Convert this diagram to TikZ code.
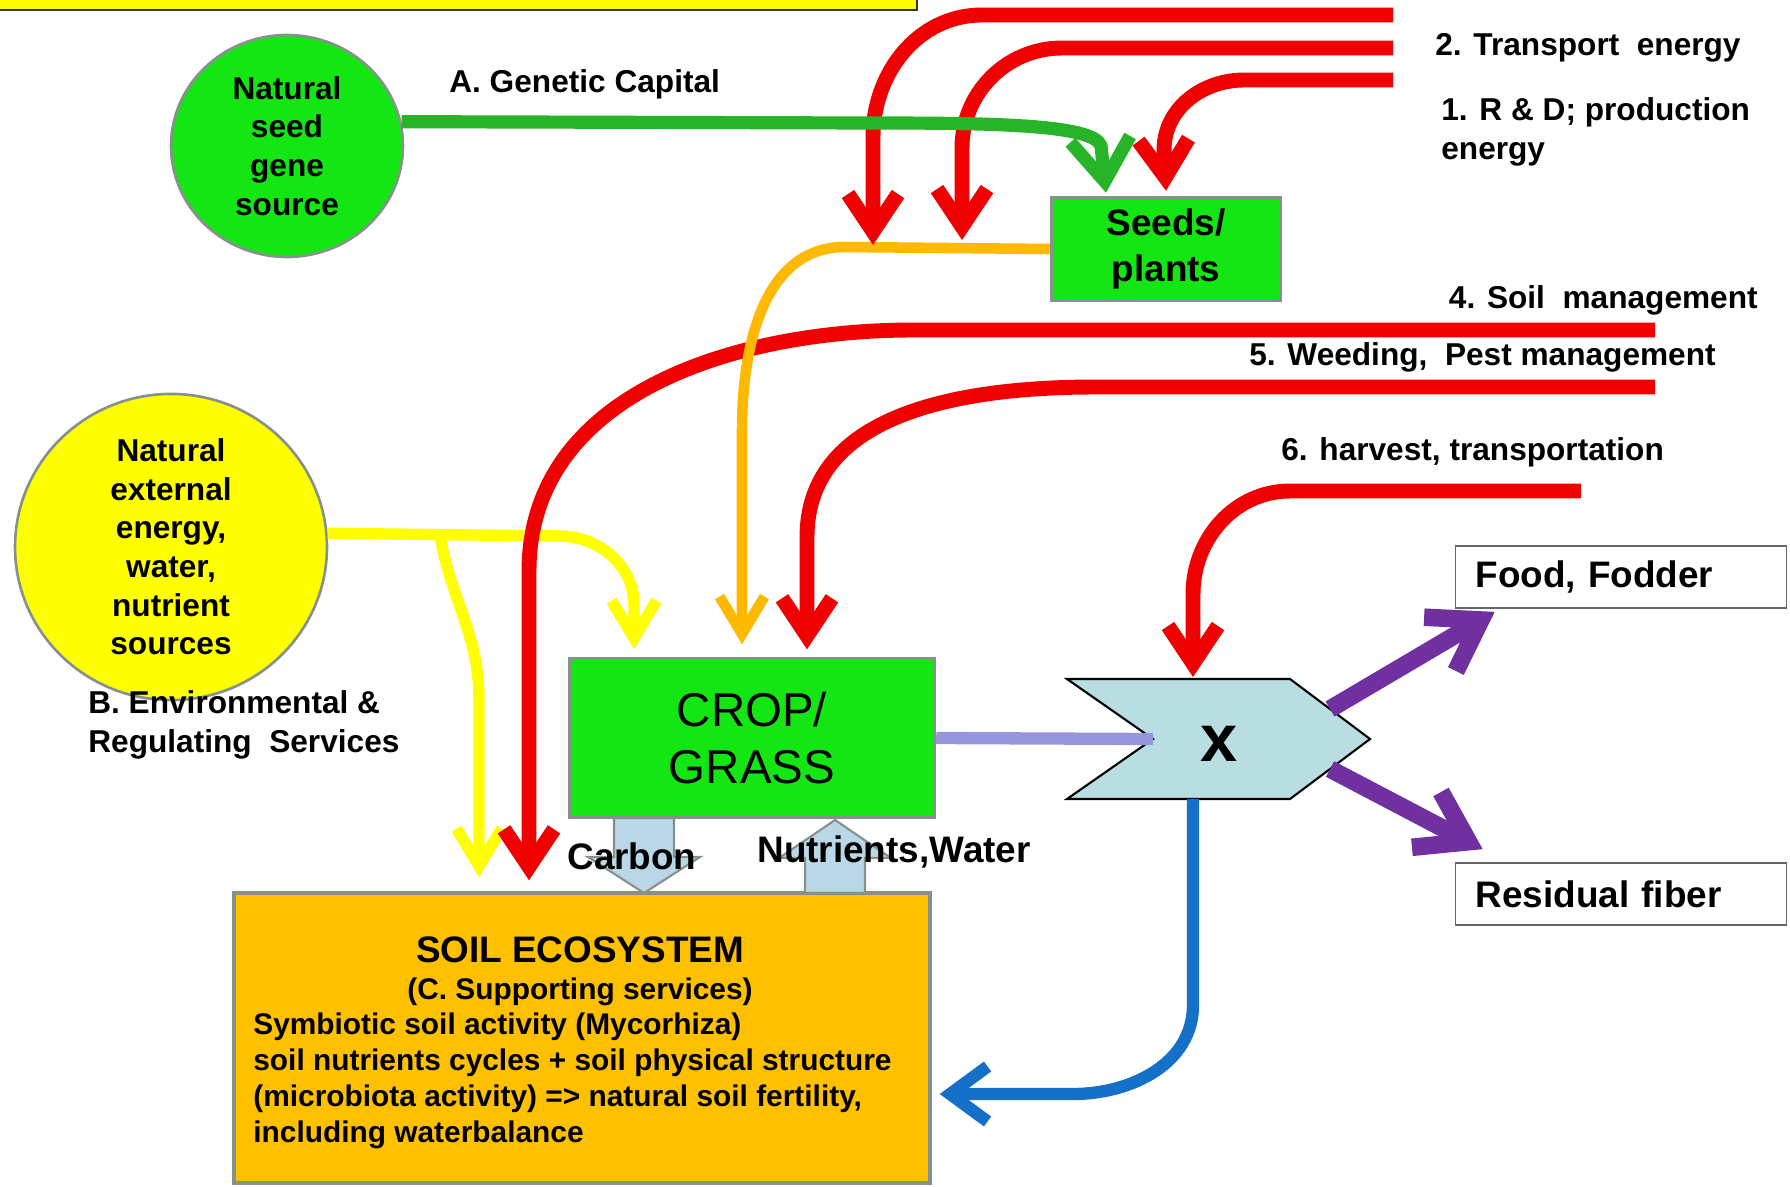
\documentclass[tikz,border=0pt]{standalone}
\usepackage{fontspec}
\setmainfont{Liberation Sans}
\usetikzlibrary{arrows.meta,shapes.geometric}

\definecolor{leafgreen}{RGB}{20,230,20}
\definecolor{stemgreen}{RGB}{40,180,40}
\definecolor{flowred}{RGB}{240,0,0}
\definecolor{seedorange}{RGB}{255,185,0}
\definecolor{soilorange}{RGB}{255,192,0}
\definecolor{sunyellow}{RGB}{255,255,0}
\definecolor{lavender}{RGB}{150,150,220}
\definecolor{harvestblue}{RGB}{185,222,226}
\definecolor{blockblue}{RGB}{185,215,230}
\definecolor{outpurple}{RGB}{112,48,160}
\definecolor{returnblue}{RGB}{20,112,200}
\definecolor{edgegray}{RGB}{135,145,140}

\begin{document}
\begin{tikzpicture}[x=0.02cm, y=-0.02cm,
    every node/.style={font=\fontsize{18}{22}\selectfont\bfseries, inner sep=0pt},
    source/.style={ellipse, draw=edgegray, line width=1.5pt, align=center},
    box/.style={rectangle, draw=edgegray, line width=2pt, align=center},
    outbox/.style={rectangle, draw=black!60, fill=white, line width=1pt,
      minimum height=1.24cm, text width=5.82cm, inner xsep=0.4cm, align=left,
      font=\fontsize{21}{25}\selectfont\bfseries},
    redflow/.style={draw=flowred, line width=8.5pt,
      -{Straight Barb[length=0.75cm,width=1.0cm]}},
    greenflow/.style={draw=stemgreen, line width=7.5pt,
      -{Straight Barb[length=0.85cm,width=1.2cm]}},
    orangeflow/.style={draw=seedorange, line width=6pt,
      -{Straight Barb[length=0.75cm,width=0.9cm]}},
    yellowflow/.style={draw=sunyellow, line width=6.5pt,
      -{Straight Barb[length=0.75cm,width=0.9cm]}},
    purpleflow/.style={draw=outpurple, line width=10pt,
      -{Straight Barb[length=0.95cm,width=1.25cm]}},
    blueflow/.style={draw=returnblue, line width=7pt,
      -{Straight Barb[length=0.75cm,width=1.1cm]}},
    blockarrow/.style={fill=blockblue, draw=edgegray, line width=1.2pt}
  ]
  \useasboundingbox (0,0) rectangle (1790,1186);

  % title box, cut off at the top
  \draw[fill=sunyellow, draw=black!80, line width=1.2pt] (-10,-40) rectangle (917,10);

  % sources and boxes
  \node[source, fill=leafgreen, minimum width=4.64cm, minimum height=4.44cm]
    (seedsrc) at (287,146) {Natural\\seed\\gene\\source};
  \node[source, fill=sunyellow, minimum width=6.24cm, minimum height=5.68cm]
    (envsrc) at (171,547) {Natural\\external\\energy,\\water,\\nutrient\\sources};
  \node[box, fill=leafgreen, minimum width=4.58cm, minimum height=2.06cm,
    font=\fontsize{21}{26}\selectfont\bfseries] (seeds) at (1166,249) {Seeds/\\plants};
  \node[box, fill=leafgreen, minimum width=7.3cm, minimum height=3.18cm,
    font=\fontsize{27}{32}\selectfont] (crop) at (752,738) {CROP/\\GRASS};
  \node[box, fill=soilorange, minimum width=13.92cm, minimum height=5.8cm]
    (soil) at (582,1038) {};
  \node[font=\fontsize{21}{25}\selectfont\bfseries] (soiltitle) at (580,950) {SOIL ECOSYSTEM};
  \node[font=\fontsize{17}{20}\selectfont\bfseries] (soilsub) at (580,992) {(C. Supporting services)};
  \node[anchor=north west, align=left, font=\fontsize{17}{20.5}\selectfont\bfseries]
    (soiltext) at (253,1012) {Symbiotic soil activity (Mycorhiza)\\
    soil nutrients cycles + soil physical structure\\
    (microbiota activity) => natural soil fertility,\\
    including waterbalance};

  % harvest step
  \draw[fill=harvestblue, draw=black, line width=1.2pt]
    (1067,679) -- (1290,679) -- (1370,739) -- (1290,799) -- (1067,799) -- (1153,739) -- cycle;
  \node[font=\fontsize{38}{40}\selectfont\bfseries] (harvest) at (1219,744) {x};
  \coordinate (notch) at (1153,739);
  \coordinate (harvtop) at (1193,677);
  \coordinate (harvbot) at (1193,799);
  \coordinate (harvup) at (1330,709);
  \coordinate (harvdown) at (1330,769);

  \node[outbox] (food) at (1621,577) {Food, Fodder};
  \node[outbox] (fiber) at (1621,894) {Residual fiber};

  % labels
  \node[anchor=west] (genlbl) at (449,84) {A. Genetic Capital};
  \node[anchor=west] (trlbl) at (1435,48) {2. Transport\ \ energy};
  \node[anchor=west, align=left] (rdlbl) at (1441,132) {1. R \& D; production\\energy};
  \node[anchor=east] (soillbl) at (1758,300) {4. Soil\ \ management};
  \node[anchor=east] (weedlbl) at (1716,357) {5. Weeding,\ \ Pest management};
  \node[anchor=west] (harvlbl) at (1281,452) {6. harvest, transportation};
  \node[anchor=west, align=left] (envlbl) at (88,725) {B. Environmental \&\\Regulating\ \ Services};

  % free ends of the energy inputs
  \coordinate (r1in) at (1393,15);
  \coordinate (r2in) at (1393,48);
  \coordinate (r3in) at (1393,80);
  \coordinate (r4in) at (1655,330);
  \coordinate (r5in) at (1655,387);
  \coordinate (r6in) at (1581,491);
  \coordinate (ybranch) at (440,536);

  % flows
  \draw[yellowflow] (envsrc.5) -- (559,536) to[out=0,in=90] (634,605)
    -- ([xshift=-2.36cm,yshift=0.15cm]crop.north);
  \draw[yellowflow] (ybranch) to[out=-80,in=90] (479,700)
    -- ([xshift=-2.06cm,yshift=0.28cm]soil.north);
  \draw[redflow] (r4in) -- (913,330) to[out=180,in=90] (529,571)
    -- ([xshift=-1.06cm,yshift=0.22cm]soil.north);
  \draw[orangeflow] (seeds.west) -- (845,247) to[out=180,in=90] (742,430)
    -- ([xshift=-0.2cm,yshift=0.25cm]crop.north);
  \draw[redflow] (r1in) -- (982,15) to[out=180,in=90] (873,137) -- (873,245);
  \draw[redflow] (r2in) -- (1062,48) to[out=180,in=90] (962,148) -- (962,240);
  \draw[redflow] (r3in) -- (1244,80) to[out=180,in=90] (1164,150) -- ([yshift=0.1cm]seeds.north);
  \draw[greenflow] (seedsrc.12) -- (868,123) .. controls (990,123) and (1094,124)
    .. (1101,146) -- ([xshift=-1.2cm,yshift=0.06cm]seeds.north);
  \draw[redflow] (r5in) -- (1096,387) to[out=180,in=90] (807,537)
    -- ([xshift=1.1cm,yshift=0.15cm]crop.north);
  \draw[redflow] (r6in) -- (1290,491) to[out=180,in=90] (1193,594) -- (harvtop);
  \draw[draw=lavender, line width=7pt] (crop.east) -- (notch);
  \draw[purpleflow] (harvup) -- ([xshift=0.8cm,yshift=-0.06cm]food.south west);
  \draw[purpleflow] (harvdown) -- ([xshift=0.56cm,yshift=0.26cm]fiber.north west);
  \draw[blueflow] (harvbot) -- (1193,1005) to[out=-90,in=0] (1073,1094)
    -- ([xshift=0.16cm,yshift=-1.12cm]soil.east);

  % exchange between crop and soil
  \draw[blockarrow] (614,818) -- (674,818) -- (674,857) -- (700,857) -- (644,893)
    -- (588,857) -- (614,857) -- cycle;
  \draw[blockarrow] (805,893) -- (865,893) -- (865,858) -- (891,858) -- (835,820)
    -- (779,858) -- (805,858) -- cycle;
  \node[anchor=west, font=\fontsize{21}{25}\selectfont\bfseries] (carbon) at (567,856) {Carbon};
  \node[anchor=west, font=\fontsize{21}{25}\selectfont\bfseries] (nutwater) at (757,852) {Nutrients,Water};
\end{tikzpicture}
\end{document}
